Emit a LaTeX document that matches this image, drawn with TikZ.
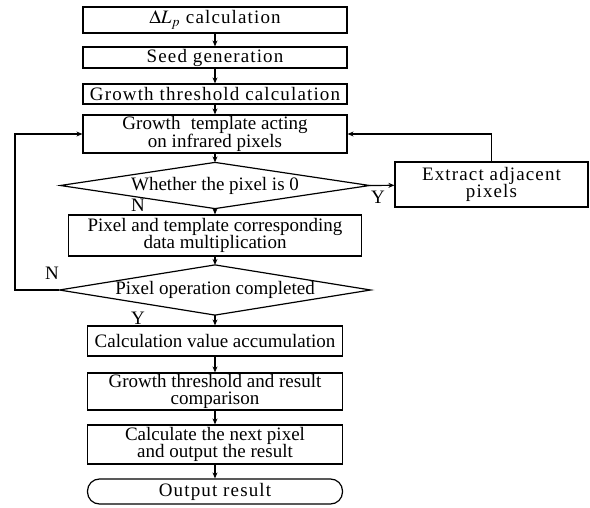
\documentclass[tikz,border=0pt]{standalone}
\usepackage{mathptmx}
\usepackage{fontspec}
\setmainfont{Liberation Serif}
\usetikzlibrary{arrows.meta}
\newcommand\widegaps{\addfontfeature{LetterSpace=6}}

\begin{document}
\begin{tikzpicture}[x=1pt,y=-1pt,line width=1.2pt,
    >={Stealth[length=6pt,width=5pt]},
    font=\fontsize{19}{17.5}\selectfont,
    box/.style={draw,rectangle,align=center,inner sep=0pt},
    dec/.style={rectangle,align=center,inner sep=0pt},
    term/.style={draw,rectangle,rounded corners=12pt,align=center,inner sep=0pt},
    wide/.style={execute at begin node=\widegaps},
    lab/.style={inner sep=0pt}]
    \useasboundingbox (0,0) rectangle (590,508);

    \node[box,wide,minimum width=264,minimum height=26] (DLP)  at (215,20)    {$\Delta L_p$ calculation};
    \node[box,wide,minimum width=264,minimum height=21] (SEED) at (215,57.5)  {Seed generation};
    \node[box,wide,minimum width=264,minimum height=20] (THR)  at (215,94)    {Growth threshold calculation};
    \node[box,minimum width=264,minimum height=38] (TMPL) at (215,134)   {Growth\hspace{0.3em} template acting\\on infrared pixels};

    \node[dec,minimum width=308,minimum height=45] (ZERO) at (215,185.5) {Whether the pixel is 0};
    \node[box,wide,minimum width=193,minimum height=45] (EXT)  at (491.5,184.5) {Extract adjacent\\pixels};
    \node[box,minimum width=293,minimum height=41] (MULT) at (215,235.5) {Pixel and template corresponding\\data multiplication};
    \node[dec,minimum width=310,minimum height=49] (DONE) at (215,290)   {Pixel operation completed};

    \node[box,minimum width=255,minimum height=30] (ACC)  at (215,341)   {Calculation value accumulation};
    \node[box,minimum width=255,minimum height=37] (CMP)  at (215,391.5) {Growth threshold and result\\comparison};
    \node[box,minimum width=255,minimum height=39] (NEXT) at (215,444.5) {Calculate the next pixel\\and output the result};
    \node[term,wide,minimum width=255,minimum height=25] (OUT) at (215,491.5) {Output result};

    \node[lab] (N1) at (138,205) {N};
    \node[lab] (Y1) at (378,197) {Y};
    \node[lab] (N2) at (52,273)  {N};
    \node[lab] (Y2) at (138,318) {Y};
    \coordinate (LEFT) at (15,0);

    % decision outlines
    \draw (ZERO.west) -- (ZERO.north) -- (ZERO.east) -- (ZERO.south) -- cycle;
    \draw (DONE.west) -- (DONE.north) -- (DONE.east) -- (DONE.south) -- cycle;

    \draw[->] (DLP) -- (SEED);
    \draw[->] (SEED) -- (THR);
    \draw[->] (THR) -- (TMPL);
    \draw[->] (TMPL) -- (ZERO.north);
    \draw[->] (ZERO.south) -- (MULT);
    \draw[->] (ZERO.east) -- (EXT);
    \draw[->] (EXT.north) |- (TMPL.east);
    \draw[->] (MULT) -- (DONE.north);
    \draw[->] (DONE.south) -- (ACC);
    \draw[->] (DONE.west) -- (LEFT |- DONE.west) |- (TMPL.west);

    \draw[->] (ACC) -- (CMP);
    \draw[->] (CMP) -- (NEXT);
    \draw[->] (NEXT) -- (OUT);
  \end{tikzpicture}
\end{document}
